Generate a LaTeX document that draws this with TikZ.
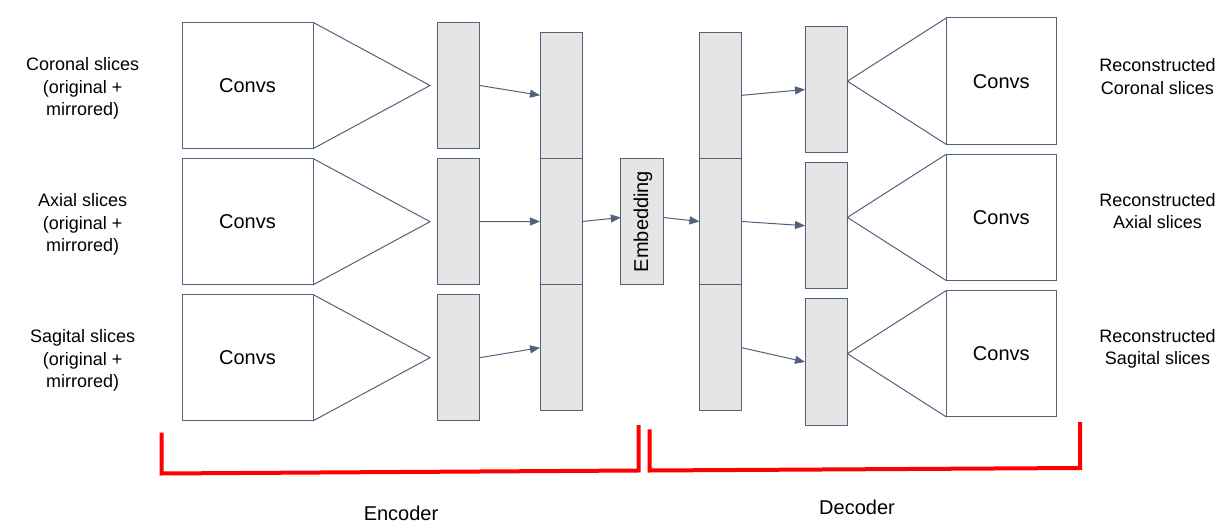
\documentclass[tikz,border=0pt]{standalone}
\usepackage{fontspec}
\setmainfont{Liberation Sans}
\usetikzlibrary{arrows.meta,calc}
\definecolor{edge}{HTML}{52617C}
\definecolor{barfill}{HTML}{E5E5E5}
\definecolor{bracket}{HTML}{FF0000}
\begin{document}
\begin{tikzpicture}[x=1pt,y=-1pt,
  base/.style={draw=edge,line width=1pt,inner sep=0pt,outer sep=0pt},
  convbox/.style={base,fill=white,minimum height=126.4pt,font=\fontsize{20}{24}\selectfont},
  encconv/.style={convbox,minimum width=131pt},
  decconv/.style={convbox,minimum width=110pt},
  bar/.style={base,fill=barfill,minimum width=42.4pt,minimum height=126.4pt},
  wing/.style={draw=edge,line width=1pt,line join=miter},
  link/.style={draw=edge,line width=1pt,-{Triangle[length=10pt,width=8pt]}},
  sidelabel/.style={align=center,font=\fontsize{18}{22.5}\selectfont},
  partlabel/.style={font=\fontsize{20}{24}\selectfont},
  brace/.style={draw=bracket,line width=4pt,line join=miter}]
\useasboundingbox (0,0) rectangle (1231,526);

% encoder convs
\node[encconv] (c1) at (247.5,85.5) {Convs};
\node[encconv] (c2) at (247.5,221.7) {Convs};
\node[encconv] (c3) at (247.5,357.7) {Convs};
\coordinate (tc1) at (430,85.5);
\coordinate (tc2) at (430,221.7);
\coordinate (tc3) at (430,357.7);
\draw[wing] (c1.north east) -- (tc1) -- (c1.south east);
\draw[wing] (c2.north east) -- (tc2) -- (c2.south east);
\draw[wing] (c3.north east) -- (tc3) -- (c3.south east);

% encoder bars
\node[bar] (b1) at (458.5,85.5) {};
\node[bar] (b2) at (458.5,221.7) {};
\node[bar] (b3) at (458.5,357.7) {};

% encoder stack
\node[bar] (s1) at (561.2,95.3) {};
\node[bar] (s2) at (561.2,221.5) {};
\node[bar] (s3) at (561.2,347.7) {};

% embedding
\node[bar] (emb) at (642,221.5) {};
\node[rotate=90,font=\fontsize{20}{24}\selectfont] (embtxt) at ([xshift=1pt]emb.center) {Embedding};

% decoder stack
\node[bar] (d1) at (720.7,95.3) {};
\node[bar] (d2) at (720.7,221.5) {};
\node[bar] (d3) at (720.7,347.7) {};

% decoder bars
\node[bar] (r1) at (826.2,89.5) {};
\node[bar] (r2) at (826.2,225.7) {};
\node[bar] (r3) at (826.2,362) {};

% decoder convs
\node[decconv] (e1) at (1001.3,81.2) {Convs};
\node[decconv] (e2) at (1001.3,217.4) {Convs};
\node[decconv] (e3) at (1001.3,353.7) {Convs};
\draw[wing] (e1.north west) -- (r1.east |- e1.center) -- (e1.south west);
\draw[wing] (e2.north west) -- (r2.east |- e2.center) -- (e2.south west);
\draw[wing] (e3.north west) -- (r3.east |- e3.center) -- (e3.south west);

% connectors
\draw[link] (b1.east) -- (s1.west);
\draw[link] (b2.east) -- (s2.west);
\draw[link] (b3.east) -- (s3.west);
\draw[link] (s2.east) -- ([yshift=4pt]emb.west);
\draw[link] ([yshift=4pt]emb.east) -- (d2.west);
\draw[link] (d1.east) -- (r1.west);
\draw[link] (d2.east) -- (r2.west);
\draw[link] (d3.east) -- (r3.west);

% side labels
\node[sidelabel] (l1) at (82.7,88.5) {Coronal slices\\(original +\\mirrored)};
\node[sidelabel] (l2) at (82.7,224.5) {Axial slices\\(original +\\mirrored)};
\node[sidelabel] (l3) at (82.7,360.5) {Sagital slices\\(original +\\mirrored)};
\node[sidelabel] (o1) at (1157.5,76.5) {Reconstructed\\Coronal slices};
\node[sidelabel] (o2) at (1157.5,211) {Reconstructed\\Axial slices};
\node[sidelabel] (o3) at (1157.5,349) {Reconstructed\\Sagital slices};

% brackets
\draw[brace] (161.5,432.7) -- (161.5,473.5) -- (638.5,470.5) -- (638.5,425);
\draw[brace] (649.7,429.3) -- (649.7,470.5) -- (1080,468) -- (1080,422);
\node[partlabel] (enc) at (401,513.5) {Encoder};
\node[partlabel] (dec) at (857,507.8) {Decoder};
\end{tikzpicture}
\end{document}
